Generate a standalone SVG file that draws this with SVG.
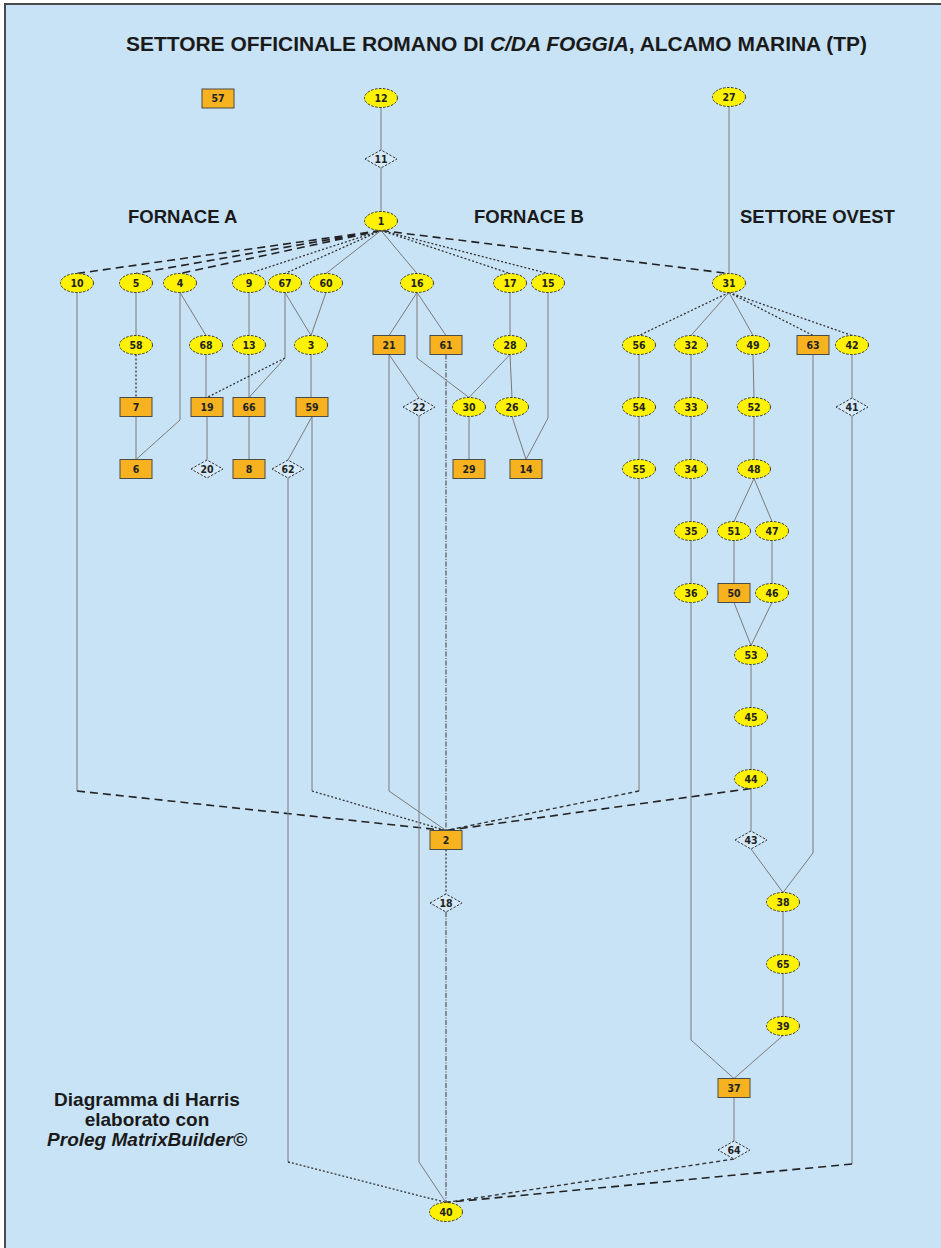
<svg xmlns="http://www.w3.org/2000/svg" width="941" height="1248" viewBox="0 0 941 1248">
<style>
.bg{fill:#c9e3f6;stroke:#4a4a4a;stroke-width:2}
.e{fill:#fff200;stroke:#333;stroke-width:1;stroke-dasharray:2.5 1.5}
.r{fill:#f6b21f;stroke:#4a4a4a;stroke-width:1}
.dm{fill:#d4e9f9;stroke:#333;stroke-width:1;stroke-dasharray:2.5 1.5}
.t{font-family:"DejaVu Sans Condensed","DejaVu Sans",sans-serif;font-stretch:condensed;font-size:10.5px;font-weight:bold;fill:#222;text-anchor:middle}
.h{font-family:"Liberation Sans",Arial,sans-serif;font-weight:bold;fill:#1a1a1a}
#edges path{fill:none}
.s{stroke:#7a7a7a;stroke-width:1}
.d{stroke:#333;stroke-width:1.3;stroke-dasharray:2 2}
.L{stroke:#222;stroke-width:1.6;stroke-dasharray:8 5}
.m{stroke:#333;stroke-width:1.4;stroke-dasharray:4 3}
.dd{stroke:#555;stroke-width:1.2;stroke-dasharray:5 1.5 1 1.5}
</style>
<rect x="0" y="0" width="941" height="1248" fill="#ffffff"/>
<rect class="bg" x="5" y="4" width="950" height="1260"/>
<text class="h" x="496.5" y="51" font-size="20" text-anchor="middle" textLength="741" lengthAdjust="spacingAndGlyphs">SETTORE OFFICINALE ROMANO DI <tspan font-style="italic">C/DA FOGGIA</tspan>, ALCAMO MARINA (TP)</text>
<text class="h" x="128" y="222.5" font-size="18.5">FORNACE A</text>
<text class="h" x="474" y="222.5" font-size="18.5">FORNACE B</text>
<text class="h" x="740" y="222.5" font-size="18.5">SETTORE OVEST</text>
<g class="h" font-size="19" text-anchor="middle">
<text x="147" y="1105.5">Diagramma di Harris</text>
<text x="147" y="1125.5">elaborato con</text>
<text x="147" y="1145.5" font-style="italic">Proleg MatrixBuilder©</text>
</g>
<g id="edges">
<path class="s" d="M381,107.5V150M381,168V211.5M729,106.5V273.5"/>
<path class="L" d="M381,230.5L77,273.5M381,230.5L136,273.5M381,230.5L180,273.5M381,230.5L729,273.5"/>
<path class="d" d="M381,230.5L249,273.5M381,230.5L285,273.5M381,230.5L510,273.5M381,230.5L548,273.5"/>
<path class="s" d="M381,230.5L326,273.5M381,230.5L417,273.5"/>
<path class="s" d="M77,292.5V791"/>
<path class="L" d="M77,791L446,830.5"/>
<path class="s" d="M136,292.5V335.5M136,416.5V459.5"/>
<path class="d" d="M136,354.5V397.5"/>
<path class="s" d="M180,292.5L206,335.5M180,292.5V420L136,459.5M206,354.5V397.5M207,416.5V460"/>
<path class="s" d="M249,292.5V335.5M249,354.5V397.5M249,416.5V459.5"/>
<path class="s" d="M285,292.5V358L249,397.5"/>
<path class="d" d="M285,358L207,397.5"/>
<path class="s" d="M285,292.5L311,335.5M326,292.5L311,335.5M311,354.5V397.5M312,416.5L288,460"/>
<path class="s" d="M312,416.5V791"/>
<path class="d" d="M312,791L446,830.5"/>
<path class="s" d="M288,478V1162"/>
<path class="d" d="M288,1162L446,1202.5"/>
<path class="s" d="M417,292.5L389,335.5M417,292.5L446,335.5M417,292.5V358L469,397.5"/>
<path class="s" d="M389,354.5L419,398M389,354.5V791L446,830.5M419,416V1162L446,1202.5"/>
<path class="dd" d="M446,354.5V830.5"/>
<path class="d" d="M446,849.5V894"/>
<path class="dd" d="M446,912V1202.5"/>
<path class="s" d="M510,292.5V335.5M510,354.5L469,397.5M510,354.5L512,397.5M469,416.5V459.5M512,416.5L526,459.5M548,292.5V418L526,459.5"/>
<path class="d" d="M729,292.5L639,335.5M729,292.5L813,335.5M729,292.5L852,335.5"/>
<path class="s" d="M729,292.5L691,335.5M729,292.5L753,335.5"/>
<path class="s" d="M639,354.5V397.5M639,416.5V459.5M639,478.5V791"/>
<path class="m" d="M639,791L446,830.5"/>
<path class="s" d="M691,354.5V397.5M691,416.5V459.5M691,478.5V521.5M691,540.5V583.5M691,602.5V1040L734,1078.5"/>
<path class="s" d="M753,354.5L754,397.5M754,416.5V459.5M754,478.5L734,521.5M754,478.5L772,521.5M734,540.5V583.5M772,540.5V583.5M734,602.5L751,645.5M772,602.5L751,645.5M751,664.5V707.5M751,726.5V769.5M751,788.5V831M751,849L783,892.5"/>
<path class="L" d="M751,788.5L446,830.5"/>
<path class="s" d="M813,354.5V853L783,892.5M783,911.5V954.5M783,973.5V1016.5M783,1035.5L734,1078.5M734,1097.5V1141"/>
<path class="m" d="M734,1159L446,1202.5"/>
<path class="s" d="M852,354.5V398M852,416V1164"/>
<path class="L" d="M852,1164L446,1202.5"/>
</g>
<g id="n57"><rect class="r" x="202" y="89" width="32" height="19"/><text class="t" x="218" y="102">57</text></g>
<g id="n12"><ellipse class="e" cx="381" cy="98" rx="16.5" ry="9.5"/><text class="t" x="381" y="101.5">12</text></g>
<g id="n27"><ellipse class="e" cx="729" cy="97" rx="16.5" ry="9.5"/><text class="t" x="729" y="100.5">27</text></g>
<g id="n11"><polygon class="dm" points="365,159 381,150 397,159 381,168"/><text class="t" x="381" y="162.5">11</text></g>
<g id="n1"><ellipse class="e" cx="381" cy="221" rx="16.5" ry="9.5"/><text class="t" x="381" y="224.5">1</text></g>
<g id="n10"><ellipse class="e" cx="77" cy="283" rx="16.5" ry="9.5"/><text class="t" x="77" y="286.5">10</text></g>
<g id="n5"><ellipse class="e" cx="136" cy="283" rx="16.5" ry="9.5"/><text class="t" x="136" y="286.5">5</text></g>
<g id="n4"><ellipse class="e" cx="180" cy="283" rx="16.5" ry="9.5"/><text class="t" x="180" y="286.5">4</text></g>
<g id="n9"><ellipse class="e" cx="249" cy="283" rx="16.5" ry="9.5"/><text class="t" x="249" y="286.5">9</text></g>
<g id="n67"><ellipse class="e" cx="285" cy="283" rx="16.5" ry="9.5"/><text class="t" x="285" y="286.5">67</text></g>
<g id="n60"><ellipse class="e" cx="326" cy="283" rx="16.5" ry="9.5"/><text class="t" x="326" y="286.5">60</text></g>
<g id="n16"><ellipse class="e" cx="417" cy="283" rx="16.5" ry="9.5"/><text class="t" x="417" y="286.5">16</text></g>
<g id="n17"><ellipse class="e" cx="510" cy="283" rx="16.5" ry="9.5"/><text class="t" x="510" y="286.5">17</text></g>
<g id="n15"><ellipse class="e" cx="548" cy="283" rx="16.5" ry="9.5"/><text class="t" x="548" y="286.5">15</text></g>
<g id="n31"><ellipse class="e" cx="729" cy="283" rx="16.5" ry="9.5"/><text class="t" x="729" y="286.5">31</text></g>
<g id="n58"><ellipse class="e" cx="136" cy="345" rx="16.5" ry="9.5"/><text class="t" x="136" y="348.5">58</text></g>
<g id="n68"><ellipse class="e" cx="206" cy="345" rx="16.5" ry="9.5"/><text class="t" x="206" y="348.5">68</text></g>
<g id="n13"><ellipse class="e" cx="249" cy="345" rx="16.5" ry="9.5"/><text class="t" x="249" y="348.5">13</text></g>
<g id="n3"><ellipse class="e" cx="311" cy="345" rx="16.5" ry="9.5"/><text class="t" x="311" y="348.5">3</text></g>
<g id="n21"><rect class="r" x="373" y="335.5" width="32" height="19"/><text class="t" x="389" y="348.5">21</text></g>
<g id="n61"><rect class="r" x="430" y="335.5" width="32" height="19"/><text class="t" x="446" y="348.5">61</text></g>
<g id="n28"><ellipse class="e" cx="510" cy="345" rx="16.5" ry="9.5"/><text class="t" x="510" y="348.5">28</text></g>
<g id="n56"><ellipse class="e" cx="639" cy="345" rx="16.5" ry="9.5"/><text class="t" x="639" y="348.5">56</text></g>
<g id="n32"><ellipse class="e" cx="691" cy="345" rx="16.5" ry="9.5"/><text class="t" x="691" y="348.5">32</text></g>
<g id="n49"><ellipse class="e" cx="753" cy="345" rx="16.5" ry="9.5"/><text class="t" x="753" y="348.5">49</text></g>
<g id="n63"><rect class="r" x="797" y="335.5" width="32" height="19"/><text class="t" x="813" y="348.5">63</text></g>
<g id="n42"><ellipse class="e" cx="852" cy="345" rx="16.5" ry="9.5"/><text class="t" x="852" y="348.5">42</text></g>
<g id="n7"><rect class="r" x="120" y="397.5" width="32" height="19"/><text class="t" x="136" y="410.5">7</text></g>
<g id="n19"><rect class="r" x="191" y="397.5" width="32" height="19"/><text class="t" x="207" y="410.5">19</text></g>
<g id="n66"><rect class="r" x="233" y="397.5" width="32" height="19"/><text class="t" x="249" y="410.5">66</text></g>
<g id="n59"><rect class="r" x="296" y="397.5" width="32" height="19"/><text class="t" x="312" y="410.5">59</text></g>
<g id="n22"><polygon class="dm" points="403,407 419,398 435,407 419,416"/><text class="t" x="419" y="410.5">22</text></g>
<g id="n30"><ellipse class="e" cx="469" cy="407" rx="16.5" ry="9.5"/><text class="t" x="469" y="410.5">30</text></g>
<g id="n26"><ellipse class="e" cx="512" cy="407" rx="16.5" ry="9.5"/><text class="t" x="512" y="410.5">26</text></g>
<g id="n54"><ellipse class="e" cx="639" cy="407" rx="16.5" ry="9.5"/><text class="t" x="639" y="410.5">54</text></g>
<g id="n33"><ellipse class="e" cx="691" cy="407" rx="16.5" ry="9.5"/><text class="t" x="691" y="410.5">33</text></g>
<g id="n52"><ellipse class="e" cx="754" cy="407" rx="16.5" ry="9.5"/><text class="t" x="754" y="410.5">52</text></g>
<g id="n41"><polygon class="dm" points="836,407 852,398 868,407 852,416"/><text class="t" x="852" y="410.5">41</text></g>
<g id="n6"><rect class="r" x="120" y="459.5" width="32" height="19"/><text class="t" x="136" y="472.5">6</text></g>
<g id="n20"><polygon class="dm" points="191,469 207,460 223,469 207,478"/><text class="t" x="207" y="472.5">20</text></g>
<g id="n8"><rect class="r" x="233" y="459.5" width="32" height="19"/><text class="t" x="249" y="472.5">8</text></g>
<g id="n62"><polygon class="dm" points="272,469 288,460 304,469 288,478"/><text class="t" x="288" y="472.5">62</text></g>
<g id="n29"><rect class="r" x="453" y="459.5" width="32" height="19"/><text class="t" x="469" y="472.5">29</text></g>
<g id="n14"><rect class="r" x="510" y="459.5" width="32" height="19"/><text class="t" x="526" y="472.5">14</text></g>
<g id="n55"><ellipse class="e" cx="639" cy="469" rx="16.5" ry="9.5"/><text class="t" x="639" y="472.5">55</text></g>
<g id="n34"><ellipse class="e" cx="691" cy="469" rx="16.5" ry="9.5"/><text class="t" x="691" y="472.5">34</text></g>
<g id="n48"><ellipse class="e" cx="754" cy="469" rx="16.5" ry="9.5"/><text class="t" x="754" y="472.5">48</text></g>
<g id="n35"><ellipse class="e" cx="691" cy="531" rx="16.5" ry="9.5"/><text class="t" x="691" y="534.5">35</text></g>
<g id="n51"><ellipse class="e" cx="734" cy="531" rx="16.5" ry="9.5"/><text class="t" x="734" y="534.5">51</text></g>
<g id="n47"><ellipse class="e" cx="772" cy="531" rx="16.5" ry="9.5"/><text class="t" x="772" y="534.5">47</text></g>
<g id="n36"><ellipse class="e" cx="691" cy="593" rx="16.5" ry="9.5"/><text class="t" x="691" y="596.5">36</text></g>
<g id="n50"><rect class="r" x="718" y="583.5" width="32" height="19"/><text class="t" x="734" y="596.5">50</text></g>
<g id="n46"><ellipse class="e" cx="772" cy="593" rx="16.5" ry="9.5"/><text class="t" x="772" y="596.5">46</text></g>
<g id="n53"><ellipse class="e" cx="751" cy="655" rx="16.5" ry="9.5"/><text class="t" x="751" y="658.5">53</text></g>
<g id="n45"><ellipse class="e" cx="751" cy="717" rx="16.5" ry="9.5"/><text class="t" x="751" y="720.5">45</text></g>
<g id="n44"><ellipse class="e" cx="751" cy="779" rx="16.5" ry="9.5"/><text class="t" x="751" y="782.5">44</text></g>
<g id="n43"><polygon class="dm" points="735,840 751,831 767,840 751,849"/><text class="t" x="751" y="843.5">43</text></g>
<g id="n2"><rect class="r" x="430" y="830.5" width="32" height="19"/><text class="t" x="446" y="843.5">2</text></g>
<g id="n18"><polygon class="dm" points="430,903 446,894 462,903 446,912"/><text class="t" x="446" y="906.5">18</text></g>
<g id="n38"><ellipse class="e" cx="783" cy="902" rx="16.5" ry="9.5"/><text class="t" x="783" y="905.5">38</text></g>
<g id="n65"><ellipse class="e" cx="783" cy="964" rx="16.5" ry="9.5"/><text class="t" x="783" y="967.5">65</text></g>
<g id="n39"><ellipse class="e" cx="783" cy="1026" rx="16.5" ry="9.5"/><text class="t" x="783" y="1029.5">39</text></g>
<g id="n37"><rect class="r" x="718" y="1078.5" width="32" height="19"/><text class="t" x="734" y="1091.5">37</text></g>
<g id="n64"><polygon class="dm" points="718,1150 734,1141 750,1150 734,1159"/><text class="t" x="734" y="1153.5">64</text></g>
<g id="n40"><ellipse class="e" cx="446" cy="1212" rx="16.5" ry="9.5"/><text class="t" x="446" y="1215.5">40</text></g>
</svg>
